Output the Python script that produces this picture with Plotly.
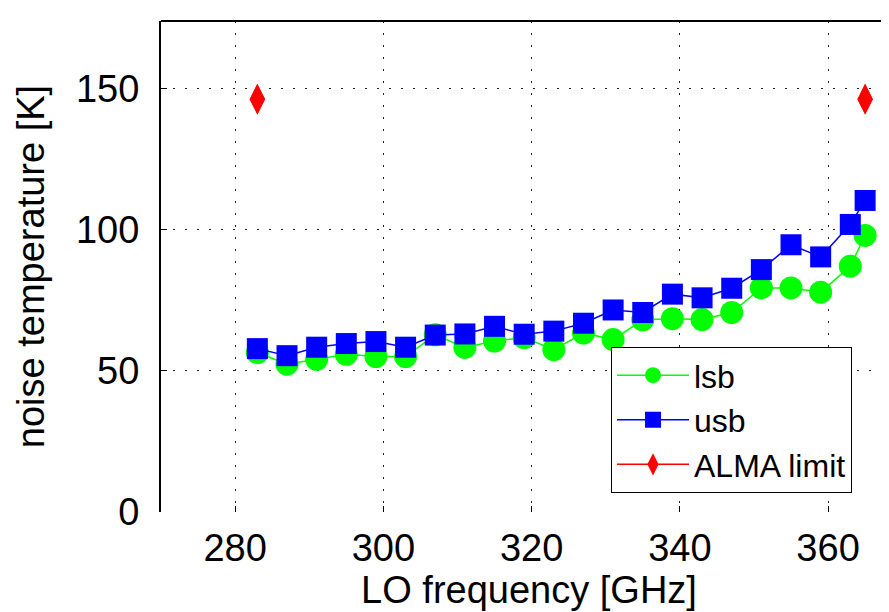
import plotly.graph_objects as go

# LO frequency [GHz]
lo_freq = [283, 287, 291, 295, 299, 303, 307, 311, 315, 319, 323,
           327, 331, 335, 339, 343, 347, 351, 355, 359, 363, 365]
# lower sideband noise temperature [K]
lsb = [56.5, 52.4, 54.1, 55.9, 55.1, 55.1, 62.8, 58.3, 60.6, 61.8, 57.5,
       63.4, 61.1, 68.1, 68.5, 68.2, 70.7, 79.4, 79.4, 77.9, 87.1, 98.0]
# upper sideband noise temperature [K]
usb = [57.9, 55.4, 58.4, 59.7, 60.4, 58.4, 62.7, 63.1, 65.8, 63.0, 64.1,
       66.9, 71.6, 70.7, 77.2, 75.9, 79.3, 85.9, 94.7, 90.4, 101.9, 110.4]
# ALMA specification limit
alma_freq = [283, 365]
alma_limit = [146.3, 146.3]

x_ticks = [280, 300, 320, 340, 360]
y_ticks = [0, 50, 100, 150]

FONT = "Liberation Sans, Arial, Helvetica, sans-serif"

fig = go.Figure()
fig.add_trace(go.Scatter(
    x=lo_freq, y=lsb, name="lsb", mode="lines+markers",
    line=dict(color="#00ff00", width=1.5),
    marker=dict(symbol="circle", size=23, color="#00ff00"),
))
fig.add_trace(go.Scatter(
    x=lo_freq, y=usb, name="usb", mode="lines+markers",
    line=dict(color="#0000ff", width=1.5),
    marker=dict(symbol="square", size=21, color="#0000ff"),
))
for i, (f, t) in enumerate(zip(alma_freq, alma_limit)):
    # each limit point is its own (zero-length) line so no segment joins them
    fig.add_trace(go.Scatter(
        x=[f, f], y=[t, t], name="ALMA limit", mode="lines+markers",
        legendgroup="alma", showlegend=(i == 0),
        line=dict(color="#ff0000", width=1.5),
        marker=dict(symbol="diamond-tall", size=22, color="#ff0000"),
    ))

grid = dict(showgrid=True, gridcolor="#222222", gridwidth=1, griddash="2px,10px",
            zeroline=False)

fig.update_layout(
    width=889, height=612,
    margin=dict(l=153, r=0, t=13, b=108),
    plot_bgcolor="white", paper_bgcolor="white",
    font=dict(family=FONT, color="black"),
    xaxis=dict(
        range=[270, 369.3], tickvals=x_ticks, ticks="inside", ticklen=6,
        tickcolor="black", tickwidth=1, showline=False,
        tickfont=dict(size=38), ticklabelstandoff=10,
        title=dict(text="LO frequency [GHz]", font=dict(size=38), standoff=4),
        **grid,
    ),
    yaxis=dict(
        range=[0, 174], tickvals=y_ticks, ticks="inside", ticklen=6,
        tickcolor="black", tickwidth=1, showline=True, linecolor="black",
        linewidth=2, mirror=False,
        tickfont=dict(size=38), ticklabelstandoff=12,
        title=dict(text="noise temperature [K]", font=dict(size=38), standoff=20),
        **grid,
    ),
    legend=dict(
        x=0.6114, xanchor="left", y=0.039, yanchor="bottom",
        bgcolor="white", bordercolor="black", borderwidth=1,
        font=dict(size=32), tracegroupgap=0, itemwidth=72,
    ),
    shapes=[dict(type="line", xref="paper", yref="paper", x0=0, x1=1, y0=1, y1=1,
                 line=dict(color="black", width=2))],
)

fig.write_html("out.html")
